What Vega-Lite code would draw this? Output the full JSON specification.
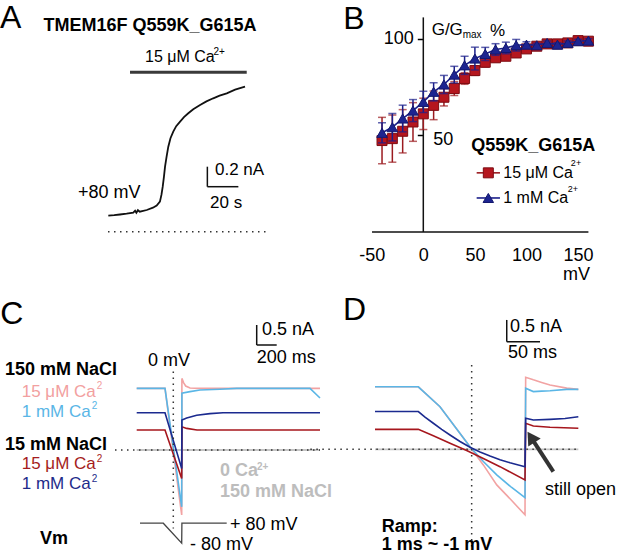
{
"$schema":"https://vega.github.io/schema/vega-lite/v6.json",
"background":"white",
"padding":0,
"columns":2,
"spacing":0,
"bounds":"flush",
"config":{"view":{"stroke":null},"text":{"font":"Liberation Sans","baseline":"middle","align":"left","color":"#000"},"axis":{"labelFont":"Liberation Sans"},"line":{"strokeWidth":1.6},"rule":{"strokeWidth":1.5}},
"datasets":{
"m15":[{"x":-40,"y":47.3},{"x":-30,"y":48.3},{"x":-20,"y":52.1},{"x":-10,"y":56.9},{"x":0,"y":61.1},{"x":10,"y":65.5},{"x":20,"y":69.7},{"x":30,"y":74.2},{"x":40,"y":79.4},{"x":50,"y":83.5},{"x":60,"y":87.8},{"x":70,"y":90.1},{"x":80,"y":90.9},{"x":90,"y":92.6},{"x":100,"y":94.7},{"x":110,"y":96.1},{"x":120,"y":97.3},{"x":130,"y":97.3},{"x":140,"y":97.8},{"x":150,"y":99.0},{"x":160,"y":98.7}],
"m1":[{"x":-40,"y":51.3},{"x":-30,"y":54.2},{"x":-20,"y":58.7},{"x":-10,"y":62.8},{"x":0,"y":67.3},{"x":10,"y":72.5},{"x":20,"y":76.3},{"x":30,"y":81.4},{"x":40,"y":86.2},{"x":50,"y":89.7},{"x":60,"y":92.1},{"x":70,"y":94.4},{"x":80,"y":95.2},{"x":90,"y":96.6},{"x":100,"y":96.9},{"x":110,"y":96.6},{"x":120,"y":97.8},{"x":130,"y":96.9},{"x":140,"y":97.8},{"x":150,"y":98.7},{"x":160,"y":99.0}],
"e15":[{"x":-40,"y":35.3,"y2":59.3},{"x":-30,"y":36.1,"y2":60.5},{"x":-20,"y":40.9,"y2":63.3},{"x":-10,"y":46.9,"y2":66.9},{"x":0,"y":53.0,"y2":69.2},{"x":10,"y":58.1,"y2":72.9},{"x":20,"y":65.2,"y2":74.2},{"x":30,"y":70.6,"y2":77.8},{"x":40,"y":76.4,"y2":82.4},{"x":50,"y":81.0,"y2":86.0},{"x":60,"y":85.3,"y2":90.3},{"x":70,"y":88.1,"y2":92.1},{"x":80,"y":88.9,"y2":92.9},{"x":90,"y":91.1,"y2":94.1},{"x":100,"y":93.2,"y2":96.2},{"x":110,"y":95.1,"y2":97.1},{"x":120,"y":96.3,"y2":98.3},{"x":130,"y":96.3,"y2":98.3},{"x":140,"y":96.8,"y2":98.8},{"x":150,"y":98.0,"y2":100.0},{"x":160,"y":97.7,"y2":99.7}],
"e1":[{"x":-40,"y":46.1,"y2":56.5},{"x":-30,"y":47.1,"y2":61.3},{"x":-20,"y":51.8,"y2":65.6},{"x":-10,"y":57.1,"y2":68.5},{"x":0,"y":61.8,"y2":72.8},{"x":10,"y":67.8,"y2":77.2},{"x":20,"y":71.6,"y2":81.0},{"x":30,"y":77.1,"y2":85.7},{"x":40,"y":81.5,"y2":90.9},{"x":50,"y":83.8,"y2":95.6},{"x":60,"y":88.7,"y2":95.5},{"x":70,"y":91.4,"y2":97.4},{"x":80,"y":92.2,"y2":98.2},{"x":90,"y":93.6,"y2":99.6},{"x":100,"y":95.4,"y2":98.4},{"x":110,"y":95.6,"y2":97.6},{"x":120,"y":96.8,"y2":98.8},{"x":130,"y":95.9,"y2":97.9},{"x":140,"y":96.8,"y2":98.8},{"x":150,"y":97.7,"y2":99.7},{"x":160,"y":98.0,"y2":100.0}]
},
"concat":[
{
"width":310,"height":290,
"encoding":{
 "x":{"field":"x","type":"quantitative","scale":{"domain":[-69.68,130.32],"nice":false,"zero":false},"axis":null},
 "y":{"field":"y","type":"quantitative","scale":{"domain":[-0.583,2.317],"nice":false,"zero":false},"axis":null}
},
"layer":[
 {"data":{"values":[{"x":0,"x2":102.6,"y":0,"y2":0}]},"mark":{"type":"rule","color":"#333","strokeWidth":1.5,"strokeDash":[1.5,4.5]},"encoding":{"x2":{"field":"x2"},"y2":{"field":"y2"}}},
 {"data":{"values":[{"x":14.2,"x2":89.5,"y":1.594,"y2":1.594}]},"mark":{"type":"rule","color":"#3a3a3a","strokeWidth":3},"encoding":{"x2":{"field":"x2"},"y2":{"field":"y2"}}},
 {"data":{"values":[{"x":64.1,"x2":64.1,"y":0.45,"y2":0.65},{"x":64.1,"x2":84.1,"y":0.45,"y2":0.45}]},"mark":{"type":"rule","color":"#111","strokeWidth":1.5},"encoding":{"x2":{"field":"x2"},"y2":{"field":"y2"}}},
 {"data":{"values":[{"x":0.2,"y":0.16},{"x":4,"y":0.165},{"x":7.7,"y":0.172},{"x":12,"y":0.18},{"x":16.3,"y":0.19},{"x":17.5,"y":0.21},{"x":18.3,"y":0.19},{"x":19.3,"y":0.215},{"x":20.5,"y":0.2},{"x":25,"y":0.217},{"x":29,"y":0.24},{"x":31.4,"y":0.262},{"x":33.5,"y":0.3},{"x":34.5,"y":0.37},{"x":35.3,"y":0.45},{"x":36.1,"y":0.55},{"x":36.8,"y":0.65},{"x":37.8,"y":0.75},{"x":38.9,"y":0.85},{"x":40.3,"y":0.935},{"x":42.1,"y":1.0},{"x":44,"y":1.055},{"x":46.5,"y":1.1},{"x":49,"y":1.145},{"x":51.8,"y":1.184},{"x":55,"y":1.225},{"x":59.4,"y":1.267},{"x":63.5,"y":1.303},{"x":67.9,"y":1.334},{"x":72,"y":1.36},{"x":76.6,"y":1.384},{"x":82,"y":1.42},{"x":88.4,"y":1.45}]},"mark":{"type":"line","color":"#111","strokeWidth":1.8}},
 {"data":{"values":[{"t":"A","x":-69.6,"y":2.14}]},"mark":{"type":"text","fontSize":32},"encoding":{"text":{"field":"t"}}},
 {"data":{"values":[{"t":"TMEM16F Q559K_G615A","x":27.1,"y":2.06}]},"mark":{"type":"text","fontSize":18,"fontWeight":"bold","align":"center"},"encoding":{"text":{"field":"t"}}},
 {"data":{"values":[{"t":"15 μM Ca","x":23.9,"y":1.75}]},"mark":{"type":"text","fontSize":16},"encoding":{"text":{"field":"t"}}},
 {"data":{"values":[{"t":"2+","x":68.0,"y":1.8}]},"mark":{"type":"text","fontSize":10},"encoding":{"text":{"field":"t"}}},
 {"data":{"values":[{"t":"+80 mV","x":-19.4,"y":0.39}]},"mark":{"type":"text","fontSize":18},"encoding":{"text":{"field":"t"}}},
 {"data":{"values":[{"t":"0.2 nA","x":69,"y":0.617},{"t":"20 s","x":65.8,"y":0.284}]},"mark":{"type":"text","fontSize":17},"encoding":{"text":{"field":"t"}}}
]
},
{
"width":307,"height":232,
"encoding":{
 "x":{"field":"x","type":"quantitative","scale":{"domain":[-109.8,187.7],"nice":false,"zero":false},"axis":{"values":[-50,0,50,100,150],"labelExpr":"'' + datum.value","domain":false,"ticks":false,"tickSize":0,"grid":false,"labelFontSize":18,"labelColor":"#000","labelPadding":14,"labelFlush":false,"labelOverlap":false,"title":null}},
 "y":{"field":"y","type":"quantitative","scale":{"domain":[0,120],"nice":false,"zero":false},"axis":{"values":[50,100],"offset":-113.3,"domain":false,"grid":false,"ticks":true,"tickSize":6,"tickWidth":1.5,"tickColor":"#000","labelFontSize":18,"labelColor":"#000","labelPadding":4,"labelExpr":"datum.value == 100 ? '100' : ''","title":null}}
},
"layer":[
 {"data":{"values":[{"x":-49.7,"x2":160,"y":0,"y2":0},{"x":0,"x2":0,"y":0,"y2":111}]},"mark":{"type":"rule","color":"#111","strokeWidth":1.5},"encoding":{"x2":{"field":"x2"},"y2":{"field":"y2"}}},
 {"data":{"name":"e15"},"mark":{"type":"errorbar","color":"#9b1b20","ticks":{"size":8,"thickness":1.5},"rule":{"strokeWidth":1.5}},"encoding":{"y2":{"field":"y2"}}},
 {"data":{"name":"m15"},"mark":{"type":"line","color":"#9b1b20","strokeWidth":1.6}},
 {"data":{"name":"m15"},"mark":{"type":"point","shape":"square","filled":true,"size":100,"fill":"#b5161e","stroke":"#7e0c12","strokeWidth":1,"opacity":1}},
 {"data":{"name":"e1"},"mark":{"type":"errorbar","color":"#1b1f8a","ticks":{"size":8,"thickness":1.5},"rule":{"strokeWidth":1.5}},"encoding":{"y2":{"field":"y2"}}},
 {"data":{"name":"m1"},"mark":{"type":"line","color":"#1b1f8a","strokeWidth":1.6}},
 {"data":{"name":"m1"},"mark":{"type":"point","shape":"triangle-up","filled":true,"size":110,"fill":"#1d2490","stroke":"#14186e","strokeWidth":1,"opacity":1}},
 {"data":{"values":[{"x":51.7,"x2":74.3,"y":30.6,"y2":30.6}]},"mark":{"type":"rule","color":"#9b1b20","strokeWidth":1.6},"encoding":{"x2":{"field":"x2"},"y2":{"field":"y2"}}},
 {"data":{"values":[{"x":51.7,"x2":74.3,"y":17.6,"y2":17.6}]},"mark":{"type":"rule","color":"#1b1f8a","strokeWidth":1.6},"encoding":{"x2":{"field":"x2"},"y2":{"field":"y2"}}},
 {"data":{"values":[{"x":63,"y":30.6}]},"mark":{"type":"point","shape":"square","filled":true,"size":100,"fill":"#b5161e","stroke":"#7e0c12","strokeWidth":1,"opacity":1}},
 {"data":{"values":[{"x":63,"y":17.6}]},"mark":{"type":"point","shape":"triangle-up","filled":true,"size":110,"fill":"#1d2490","stroke":"#14186e","strokeWidth":1,"opacity":1}},
 {"data":{"values":[{"t":"B","x":-77.6,"y":110.4}]},"mark":{"type":"text","fontSize":32},"encoding":{"text":{"field":"t"}}},
 {"data":{"values":[{"t":"G/G","x":8.1,"y":104.7},{"t":"%","x":64.6,"y":103.8}]},"mark":{"type":"text","fontSize":17},"encoding":{"text":{"field":"t"}}},
 {"data":{"values":[{"t":"max","x":38.2,"y":102.1}]},"mark":{"type":"text","fontSize":10},"encoding":{"text":{"field":"t"}}},
 {"data":{"values":[{"t":"50","x":9.7,"y":47.8},{"t":"mV","x":135.4,"y":-22}]},"mark":{"type":"text","fontSize":18},"encoding":{"text":{"field":"t"}}},
 {"data":{"values":[{"t":"Q559K_G615A","x":106.6,"y":44.3}]},"mark":{"type":"text","fontSize":18,"fontWeight":"bold","align":"center"},"encoding":{"text":{"field":"t"}}},
 {"data":{"values":[{"t":"15 μM Ca","x":77.5,"y":30.6},{"t":"1 mM Ca","x":77.5,"y":17.6}]},"mark":{"type":"text","fontSize":16},"encoding":{"text":{"field":"t"}}},
 {"data":{"values":[{"t":"2+","x":143,"y":35.5},{"t":"2+","x":140,"y":22.5}]},"mark":{"type":"text","fontSize":9},"encoding":{"text":{"field":"t"}}}
]
},
{
"width":310,"height":264,
"encoding":{
 "x":{"field":"x","type":"quantitative","scale":{"domain":[-1367,1733],"nice":false,"zero":false},"axis":null},
 "y":{"field":"y","type":"quantitative","scale":{"domain":[-2.6,4.0],"nice":false,"zero":false},"axis":null}
},
"layer":[
 {"data":{"values":[{"x":0,"y":0},{"x":1833,"y":0}]},"mark":{"type":"line","color":"#c4c4c4","strokeWidth":1.8}},
 {"data":{"values":[{"x":-217,"x2":1833,"y":0,"y2":0}]},"mark":{"type":"rule","color":"#333","strokeWidth":1.5,"strokeDash":[1.5,4.5]},"encoding":{"x2":{"field":"x2"},"y2":{"field":"y2"}}},
 {"data":{"values":[{"x":0,"y":1.54},{"x":283,"y":1.54},{"x":450,"y":-1.625},{"x":452,"y":1.79},{"x":470,"y":1.68},{"x":490,"y":1.6},{"x":533,"y":1.55},{"x":633,"y":1.54},{"x":1833,"y":1.54}]},"mark":{"type":"line","color":"#f2a3a3"}},
 {"data":{"values":[{"x":0,"y":1.54},{"x":283,"y":1.54},{"x":450,"y":-1.42},{"x":452,"y":1.42},{"x":533,"y":1.46},{"x":633,"y":1.5},{"x":833,"y":1.52},{"x":1000,"y":1.54},{"x":1733,"y":1.54},{"x":1833,"y":1.3}]},"mark":{"type":"line","color":"#5ab6e6"}},
 {"data":{"values":[{"x":0,"y":0.5},{"x":283,"y":0.5},{"x":450,"y":-0.71},{"x":452,"y":0.58},{"x":500,"y":0.54},{"x":603,"y":0.5},{"x":1833,"y":0.5}]},"mark":{"type":"line","color":"#a6161d"}},
 {"data":{"values":[{"x":0,"y":0.93},{"x":283,"y":0.93},{"x":450,"y":-0.46},{"x":452,"y":0.75},{"x":500,"y":0.8},{"x":600,"y":0.87},{"x":733,"y":0.91},{"x":863,"y":0.93},{"x":1833,"y":0.93}]},"mark":{"type":"line","color":"#1b2a8f"}},
 {"data":{"values":[{"x":366,"x2":366,"y":1.96,"y2":-1.96}]},"mark":{"type":"rule","color":"#333","strokeWidth":1.5,"strokeDash":[1.5,4.5]},"encoding":{"x2":{"field":"x2"},"y2":{"field":"y2"}}},
 {"data":{"values":[{"x":33,"y":-1.83},{"x":266,"y":-1.83},{"x":450,"y":-2.33},{"x":452,"y":-1.83},{"x":900,"y":-1.83}]},"mark":{"type":"line","color":"#444","strokeWidth":1.3}},
 {"data":{"values":[{"x":1200,"x2":1200,"y":2.625,"y2":3.125},{"x":1200,"x2":1400,"y":2.625,"y2":2.625}]},"mark":{"type":"rule","color":"#111","strokeWidth":1.5},"encoding":{"x2":{"field":"x2"},"y2":{"field":"y2"}}},
 {"data":{"values":[{"t":"C","x":-1365,"y":3.39}]},"mark":{"type":"text","fontSize":32},"encoding":{"text":{"field":"t"}}},
 {"data":{"values":[{"t":"150 mM NaCl","x":-1317,"y":2.0},{"t":"15 mM NaCl","x":-1317,"y":0.13},{"t":"Vm","x":-967,"y":-2.22}]},"mark":{"type":"text","fontSize":18,"fontWeight":"bold"},"encoding":{"text":{"field":"t"}}},
 {"data":{"values":[{"t":"15 μM Ca","x":-1150,"y":1.46}]},"mark":{"type":"text","fontSize":17,"color":"#f2a0a0"},"encoding":{"text":{"field":"t"}}},
 {"data":{"values":[{"t":"2","x":-400,"y":1.6}]},"mark":{"type":"text","fontSize":10,"color":"#f2a0a0"},"encoding":{"text":{"field":"t"}}},
 {"data":{"values":[{"t":"1 mM Ca","x":-1150,"y":0.96}]},"mark":{"type":"text","fontSize":17,"color":"#5ab6e6"},"encoding":{"text":{"field":"t"}}},
 {"data":{"values":[{"t":"2","x":-450,"y":1.09}]},"mark":{"type":"text","fontSize":10,"color":"#5ab6e6"},"encoding":{"text":{"field":"t"}}},
 {"data":{"values":[{"t":"15 μM Ca","x":-1150,"y":-0.36}]},"mark":{"type":"text","fontSize":17,"color":"#a51c20"},"encoding":{"text":{"field":"t"}}},
 {"data":{"values":[{"t":"2","x":-400,"y":-0.22}]},"mark":{"type":"text","fontSize":10,"color":"#a51c20"},"encoding":{"text":{"field":"t"}}},
 {"data":{"values":[{"t":"1 mM Ca","x":-1150,"y":-0.86}]},"mark":{"type":"text","fontSize":17,"color":"#1e2b8a"},"encoding":{"text":{"field":"t"}}},
 {"data":{"values":[{"t":"2","x":-450,"y":-0.72}]},"mark":{"type":"text","fontSize":10,"color":"#1e2b8a"},"encoding":{"text":{"field":"t"}}},
 {"data":{"values":[{"t":"0 mV","x":113,"y":2.23},{"t":"0.5 nA","x":1253,"y":3.0},{"t":"200 ms","x":1200,"y":2.3},{"t":"+ 80 mV","x":933,"y":-1.875},{"t":"- 80 mV","x":533,"y":-2.38}]},"mark":{"type":"text","fontSize":18},"encoding":{"text":{"field":"t"}}},
 {"data":{"values":[{"t":"0 Ca","x":833,"y":-0.525},{"t":"150 mM NaCl","x":833,"y":-1.04}]},"mark":{"type":"text","fontSize":18,"fontWeight":"bold","color":"#bdbdbd"},"encoding":{"text":{"field":"t"}}},
 {"data":{"values":[{"t":"2+","x":1203,"y":-0.42}]},"mark":{"type":"text","fontSize":10,"fontWeight":"bold","color":"#bdbdbd"},"encoding":{"text":{"field":"t"}}}
]
},
{
"width":307,"height":264,
"encoding":{
 "x":{"field":"x","type":"quantitative","scale":{"domain":[-162.5,298],"nice":false,"zero":false},"axis":null},
 "y":{"field":"y","type":"quantitative","scale":{"domain":[-2.412,3.67],"nice":false,"zero":false},"axis":null}
},
"layer":[
 {"data":{"values":[{"x":-65,"y":0},{"x":240,"y":0}]},"mark":{"type":"line","color":"#c4c4c4","strokeWidth":1.8}},
 {"data":{"values":[{"x":-162,"x2":240,"y":0,"y2":0}]},"mark":{"type":"rule","color":"#333","strokeWidth":1.5,"strokeDash":[1.5,4.5]},"encoding":{"x2":{"field":"x2"},"y2":{"field":"y2"}}},
 {"data":{"values":[{"x":-65,"y":1.44},{"x":0,"y":1.44},{"x":32.5,"y":0.98},{"x":55,"y":0.52},{"x":77.5,"y":0.06},{"x":97.5,"y":-0.36},{"x":117.6,"y":-0.82},{"x":140,"y":-1.18},{"x":160,"y":-1.51},{"x":161,"y":1.66},{"x":172.5,"y":1.6},{"x":185,"y":1.54},{"x":197.5,"y":1.48},{"x":222.6,"y":1.41},{"x":240,"y":1.38}]},"mark":{"type":"line","color":"#f2a3a3"}},
 {"data":{"values":[{"x":-65,"y":1.44},{"x":0,"y":1.44},{"x":32.5,"y":0.98},{"x":55,"y":0.52},{"x":77.5,"y":0.06},{"x":97.5,"y":-0.28},{"x":117.6,"y":-0.59},{"x":140,"y":-0.88},{"x":160,"y":-1.115},{"x":161,"y":1.405},{"x":172.5,"y":1.33},{"x":185,"y":1.34},{"x":197.5,"y":1.35},{"x":222.6,"y":1.38},{"x":240,"y":1.38}]},"mark":{"type":"line","color":"#5ab6e6"}},
 {"data":{"values":[{"x":-65,"y":0.46},{"x":0,"y":0.46},{"x":22.5,"y":0.31},{"x":47.5,"y":0.14},{"x":72.5,"y":-0.03},{"x":97.5,"y":-0.21},{"x":122.5,"y":-0.4},{"x":160,"y":-0.707},{"x":161,"y":0.6},{"x":172.5,"y":0.537},{"x":197.5,"y":0.507},{"x":240,"y":0.484}]},"mark":{"type":"line","color":"#a6161d"}},
 {"data":{"values":[{"x":-65,"y":0.87},{"x":0,"y":0.87},{"x":10,"y":0.74},{"x":22.5,"y":0.6},{"x":35,"y":0.46},{"x":47.5,"y":0.33},{"x":62.5,"y":0.18},{"x":77.5,"y":0.046},{"x":92.5,"y":-0.06},{"x":107.5,"y":-0.154},{"x":122.5,"y":-0.24},{"x":137.5,"y":-0.31},{"x":150,"y":-0.36},{"x":160,"y":-0.4},{"x":161,"y":0.714},{"x":172.5,"y":0.675},{"x":197.5,"y":0.69},{"x":220,"y":0.71},{"x":240,"y":0.75}]},"mark":{"type":"line","color":"#1b2a8f"}},
 {"data":{"values":[{"x":80,"x2":80,"y":1.94,"y2":-2.32}]},"mark":{"type":"rule","color":"#333","strokeWidth":1.5,"strokeDash":[1.5,4.5]},"encoding":{"x2":{"field":"x2"},"y2":{"field":"y2"}}},
 {"data":{"values":[{"x":132.6,"x2":132.6,"y":2.48,"y2":2.98},{"x":132.6,"x2":182.5,"y":2.48,"y2":2.48}]},"mark":{"type":"rule","color":"#111","strokeWidth":1.5},"encoding":{"x2":{"field":"x2"},"y2":{"field":"y2"}}},
 {"data":{"values":[{"x":202.5,"x2":170,"y":-0.516,"y2":0.253}]},"mark":{"type":"rule","color":"#333","strokeWidth":4},"encoding":{"x2":{"field":"x2"},"y2":{"field":"y2"}}},
 {"data":{"values":[{"x":169,"y":0.28}]},"mark":{"type":"point","shape":"triangle-up","filled":true,"size":220,"angle":327,"color":"#333","opacity":1}},
 {"data":{"values":[{"t":"D","x":-113,"y":3.2}]},"mark":{"type":"text","fontSize":32},"encoding":{"text":{"field":"t"}}},
 {"data":{"values":[{"t":"0.5 nA","x":137.5,"y":2.825},{"t":"50 ms","x":134.5,"y":2.22},{"t":"still open","x":190,"y":-0.94}]},"mark":{"type":"text","fontSize":18},"encoding":{"text":{"field":"t"}}},
 {"data":{"values":[{"t":"Ramp:","x":-55,"y":-1.78},{"t":"1 ms ~ -1 mV","x":-55,"y":-2.2}]},"mark":{"type":"text","fontSize":18,"fontWeight":"bold"},"encoding":{"text":{"field":"t"}}}
]
}
]
}
